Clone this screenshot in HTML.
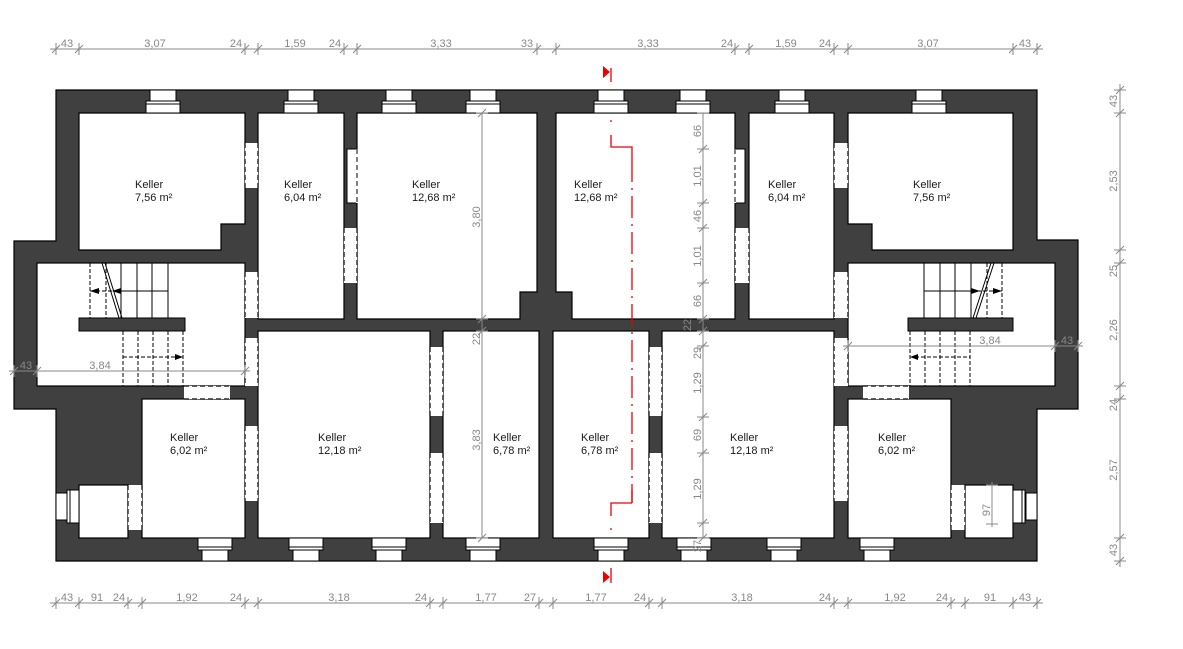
<!DOCTYPE html>
<html><head><meta charset="utf-8"><style>
html,body{margin:0;padding:0;background:#fff;}
svg{display:block;}
.t{font-family:"Liberation Sans",sans-serif;font-size:11px;fill:#1a1a1a;}
.d{font-family:"Liberation Sans",sans-serif;font-size:11px;fill:#888;}
</style></head><body>
<svg width="1183" height="649" viewBox="0 0 1183 649" xmlns="http://www.w3.org/2000/svg">
<polygon points="56,90 1037,90 1037,240 1078,240 1078,409 1037,409 1037,561 56,561 56,409 14,409 14,241 56,241" fill="#404040" stroke="#000" stroke-width="1.2"/>
<g fill="#fff" stroke="#000" stroke-width="1.2">
<polygon points="79,113 245,113 245,224 221,224 221,250 79,250"/>
<rect x="258" y="113" width="86" height="206"/>
<polygon points="357,113 537,113 537,292 520,292 520,319 357,319"/>
<polygon points="556,113 735,113 735,319 572,319 572,292 556,292"/>
<rect x="749" y="113" width="85" height="206"/>
<polygon points="848,113 1013,113 1013,250 872,250 872,224 848,224"/>
<rect x="37" y="263" width="208" height="123"/>
<rect x="848" y="263" width="207" height="123"/>
<rect x="142" y="399" width="103" height="139"/>
<rect x="79" y="485" width="49" height="53"/>
<rect x="258" y="331" width="172" height="207"/>
<rect x="443" y="331" width="96" height="207"/>
<rect x="553" y="331" width="96" height="207"/>
<rect x="662" y="331" width="172" height="207"/>
<rect x="848" y="399" width="103" height="139"/>
<rect x="965" y="485" width="48" height="53"/>
</g>
<rect x="79" y="318" width="106" height="13" fill="#404040" stroke="#000"/>
<rect x="908" y="318" width="105" height="13" fill="#404040" stroke="#000"/>
<g fill="#fff" stroke="none">
<rect x="245" y="143" width="13" height="45"/><rect x="245" y="272" width="13" height="46"/>
<rect x="245" y="338" width="13" height="48"/><rect x="245" y="426" width="13" height="75"/>
<rect x="834" y="143" width="14" height="45"/><rect x="834" y="272" width="14" height="46"/>
<rect x="834" y="338" width="14" height="48"/><rect x="834" y="426" width="14" height="75"/>
<rect x="344" y="228" width="13" height="55"/><rect x="735" y="228" width="14" height="55"/>
<rect x="430" y="347" width="13" height="69"/><rect x="430" y="453" width="13" height="70"/>
<rect x="649" y="347" width="13" height="69"/><rect x="649" y="453" width="13" height="70"/>
<rect x="128" y="485" width="14" height="45"/><rect x="951" y="485" width="14" height="45"/>
<rect x="184" y="386" width="46" height="13"/><rect x="863" y="386" width="46" height="13"/>
</g>
<g stroke="#000" stroke-width="1.2" stroke-dasharray="5,3" fill="none">
<path d="M245,143V188M258,143V188M245,272V318M258,272V318M245,338V386M258,338V386M245,426V501M258,426V501"/>
<path d="M834,143V188M848,143V188M834,272V318M848,272V318M834,338V386M848,338V386M834,426V501M848,426V501"/>
<path d="M344,228V283M357,228V283M735,228V283M749,228V283"/>
<path d="M430,347V416M443,347V416M430,453V523M443,453V523M649,347V416M662,347V416M649,453V523M662,453V523"/>
<path d="M128,485V530M142,485V530M951,485V530M965,485V530"/>
<path d="M184,386H230M184,399H230M863,386H909M863,399H909"/>
</g>
<rect x="347" y="149" width="10" height="54" fill="#fff" stroke="#000"/>
<rect x="735" y="149" width="10" height="54" fill="#fff" stroke="#000"/>
<path d="M357,149V203M735,149V203" stroke="#fff" stroke-width="2"/>
<path d="M357,149V203M735,149V203" stroke="#000" stroke-dasharray="5,3"/>
<g fill="#fff" stroke="#000">
<rect x="150" y="90" width="26" height="11"/><rect x="146" y="101" width="34" height="12"/>
<rect x="288" y="90" width="26" height="11"/><rect x="284" y="101" width="34" height="12"/>
<rect x="386" y="90" width="26" height="11"/><rect x="382" y="101" width="34" height="12"/>
<rect x="470" y="90" width="26" height="11"/><rect x="466" y="101" width="34" height="12"/>
<rect x="598" y="90" width="26" height="11"/><rect x="594" y="101" width="34" height="12"/>
<rect x="680" y="90" width="26" height="11"/><rect x="676" y="101" width="34" height="12"/>
<rect x="779" y="90" width="26" height="11"/><rect x="775" y="101" width="34" height="12"/>
<rect x="916" y="90" width="26" height="11"/><rect x="912" y="101" width="34" height="12"/>
<rect x="202" y="550" width="26" height="11"/><rect x="198" y="538" width="34" height="12"/>
<rect x="293" y="550" width="26" height="11"/><rect x="289" y="538" width="34" height="12"/>
<rect x="376" y="550" width="26" height="11"/><rect x="372" y="538" width="34" height="12"/>
<rect x="470" y="550" width="26" height="11"/><rect x="466" y="538" width="34" height="12"/>
<rect x="598" y="550" width="26" height="11"/><rect x="594" y="538" width="34" height="12"/>
<rect x="681" y="550" width="26" height="11"/><rect x="677" y="538" width="34" height="12"/>
<rect x="771" y="550" width="26" height="11"/><rect x="767" y="538" width="34" height="12"/>
<rect x="864" y="550" width="26" height="11"/><rect x="860" y="538" width="34" height="12"/>
<rect x="56" y="493" width="11" height="27"/><rect x="67" y="490" width="12" height="33"/>
<rect x="1026" y="493" width="11" height="27"/><rect x="1013" y="490" width="12" height="33"/>
</g>
<g stroke="#000" fill="none">
<path d="M146,104H180M284,104H318M382,104H416M466,104H500M594,104H628M676,104H710M775,104H809M912,104H946"/>
<path d="M198,547H232M289,547H323M372,547H406M466,547H500M594,547H628M677,547H711M767,547H801M860,547H894"/>
<path d="M70,490V523M1022,490V523"/>
</g>
<g stroke="#000" fill="none" stroke-width="1">
<path d="M121,263V318M137,263V318M152,263V318M168,263V318M121,291H168"/>
<path d="M90,263V318M106,263V318M90,291H121" stroke-dasharray="4,2"/>
<path d="M102,263L119,318M105,263L122,318"/>
<path d="M123,331V386M138,331V386M153,331V386M168,331V386M183,331V386M123,357H178" stroke-dasharray="4,2"/>
<path d="M924,263V318M940,263V318M955,263V318M971,263V318M924,291H971"/>
<path d="M987,263V318M1002,263V318M971,291H1002" stroke-dasharray="4,2"/>
<path d="M991,263L973,318M994,263L976,318"/>
<path d="M910,331V386M925,331V386M940,331V386M955,331V386M970,331V386M915,357H970" stroke-dasharray="4,2"/>
</g>
<g fill="#000">
<polygon points="90,291 99,288 99,294"/><polygon points="112,291 121,288 121,294"/>
<polygon points="183,357 175,354 175,360"/>
<polygon points="980,291 971,288 971,294"/><polygon points="1002,291 993,288 993,294"/>
<polygon points="910,357 918,354 918,360"/>
</g>
<g class="t">
<text x="135" y="188">Keller</text><text x="135" y="201">7,56 m²</text>
<text x="284" y="188">Keller</text><text x="284" y="201">6,04 m²</text>
<text x="412" y="188">Keller</text><text x="412" y="201">12,68 m²</text>
<text x="574" y="188">Keller</text><text x="574" y="201">12,68 m²</text>
<text x="768" y="188">Keller</text><text x="768" y="201">6,04 m²</text>
<text x="913" y="188">Keller</text><text x="913" y="201">7,56 m²</text>
<text x="170" y="441">Keller</text><text x="170" y="454">6,02 m²</text>
<text x="318" y="441">Keller</text><text x="318" y="454">12,18 m²</text>
<text x="493" y="441">Keller</text><text x="493" y="454">6,78 m²</text>
<text x="581" y="441">Keller</text><text x="581" y="454">6,78 m²</text>
<text x="730" y="441">Keller</text><text x="730" y="454">12,18 m²</text>
<text x="878" y="441">Keller</text><text x="878" y="454">6,02 m²</text>
</g>
<g stroke="#e00" stroke-width="1.3" fill="none">
<path d="M611,68V82M611,120V122M611,135V147H632V160"/>
<path d="M632,160V503" stroke-dasharray="22,6,2,6"/>
<path d="M632,503V490M632,503H611V516M611,528V530M611,568V583"/>
</g>
<polygon points="603,66 610,72 603,78" fill="#e00"/>
<polygon points="603,571 610,577 603,583" fill="#e00"/>
<g stroke="#888" stroke-width="1" fill="none">
<path d="M50,49H1043"/>
<path d="M56,43V55M79,43V55M245,43V55M258,43V55M344,43V55M357,43V55M537,43V55M556,43V55M735,43V55M749,43V55M834,43V55M848,43V55M1013,43V55M1037,43V55"/>
<path d="M52,53l8,-8M75,53l8,-8M241,53l8,-8M254,53l8,-8M340,53l8,-8M353,53l8,-8M533,53l8,-8M552,53l8,-8M731,53l8,-8M745,53l8,-8M830,53l8,-8M844,53l8,-8M1009,53l8,-8M1033,53l8,-8"/>
<path d="M50,603H1043"/>
<path d="M56,597V609M79,597V609M128,597V609M142,597V609M245,597V609M258,597V609M430,597V609M443,597V609M539,597V609M553,597V609M649,597V609M662,597V609M834,597V609M848,597V609M951,597V609M965,597V609M1013,597V609M1037,597V609"/>
<path d="M52,607l8,-8M75,607l8,-8M124,607l8,-8M138,607l8,-8M241,607l8,-8M254,607l8,-8M426,607l8,-8M439,607l8,-8M535,607l8,-8M549,607l8,-8M645,607l8,-8M658,607l8,-8M830,607l8,-8M844,607l8,-8M947,607l8,-8M961,607l8,-8M1009,607l8,-8M1033,607l8,-8"/>
<path d="M1120,84V567"/>
<path d="M1114,90H1126M1114,113H1126M1114,250H1126M1114,263H1126M1114,386H1126M1114,399H1126M1114,538H1126M1114,561H1126"/>
<path d="M1116,94l8,-8M1116,117l8,-8M1116,254l8,-8M1116,267l8,-8M1116,390l8,-8M1116,403l8,-8M1116,542l8,-8M1116,565l8,-8"/>
<path d="M482,113V538M476,113H488M476,319H488M476,331H488M476,538H488"/>
<path d="M478,117l8,-8M478,323l8,-8M478,335l8,-8M478,542l8,-8"/>
<path d="M703,113V538M697,113H709M697,149H709M697,203H709M697,228H709M697,283H709M697,319H709M697,331H709M697,346H709M697,417H709M697,453H709M697,523H709M697,538H709"/>
<path d="M699,153l8,-8M699,207l8,-8M699,232l8,-8M699,287l8,-8M699,323l8,-8M699,335l8,-8M699,350l8,-8M699,421l8,-8M699,457l8,-8M699,527l8,-8M699,542l8,-8"/>
<path d="M9,371H250M14,365V377M37,365V377M245,365V377M10,375l8,-8M33,375l8,-8M241,375l8,-8"/>
<path d="M843,346H1083M848,340V352M1055,340V352M1078,340V352M844,350l8,-8M1051,350l8,-8M1074,350l8,-8"/>
<path d="M992,482V527M986,485H998M986,524H998"/>
</g>
<g class="d" text-anchor="middle">
<text x="67" y="47">43</text><text x="155" y="47">3,07</text><text x="236" y="47">24</text><text x="295" y="47">1,59</text><text x="335" y="47">24</text><text x="441" y="47">3,33</text><text x="527" y="47">33</text><text x="648" y="47">3,33</text><text x="727" y="47">24</text><text x="786" y="47">1,59</text><text x="825" y="47">24</text><text x="928" y="47">3,07</text><text x="1025" y="47">43</text>
<text x="67" y="601">43</text><text x="97" y="601">91</text><text x="119" y="601">24</text><text x="187" y="601">1,92</text><text x="236" y="601">24</text><text x="339" y="601">3,18</text><text x="421" y="601">24</text><text x="486" y="601">1,77</text><text x="530" y="601">27</text><text x="596" y="601">1,77</text><text x="640" y="601">24</text><text x="742" y="601">3,18</text><text x="825" y="601">24</text><text x="895" y="601">1,92</text><text x="942" y="601">24</text><text x="990" y="601">91</text><text x="1025" y="601">43</text>
<text x="26" y="369">43</text><text x="100" y="369">3,84</text>
<text x="990" y="344">3,84</text><text x="1067" y="344">43</text>
</g>
<g class="d" text-anchor="middle">
<text transform="translate(1117,101) rotate(-90)">43</text>
<text transform="translate(1117,181) rotate(-90)">2,53</text>
<text transform="translate(1117,271) rotate(-90)">25</text>
<text transform="translate(1117,330) rotate(-90)">2,26</text>
<text transform="translate(1117,405) rotate(-90)">24</text>
<text transform="translate(1117,470) rotate(-90)">2,57</text>
<text transform="translate(1117,550) rotate(-90)">43</text>
<text transform="translate(480,217) rotate(-90)">3,80</text>
<text transform="translate(480,339) rotate(-90)">22</text>
<text transform="translate(480,440) rotate(-90)">3,83</text>
<text transform="translate(701,131) rotate(-90)">66</text>
<text transform="translate(701,176) rotate(-90)">1,01</text>
<text transform="translate(701,216) rotate(-90)">46</text>
<text transform="translate(701,256) rotate(-90)">1,01</text>
<text transform="translate(701,301) rotate(-90)">66</text>
<text transform="translate(691,325) rotate(-90)">22</text>
<text transform="translate(701,353) rotate(-90)">29</text>
<text transform="translate(701,383) rotate(-90)">1,29</text>
<text transform="translate(701,435) rotate(-90)">69</text>
<text transform="translate(701,489) rotate(-90)">1,29</text>
<text transform="translate(701,546) rotate(-90)">27</text>
<text transform="translate(990,510) rotate(-90)">97</text>
</g>
</svg>
</body></html>
